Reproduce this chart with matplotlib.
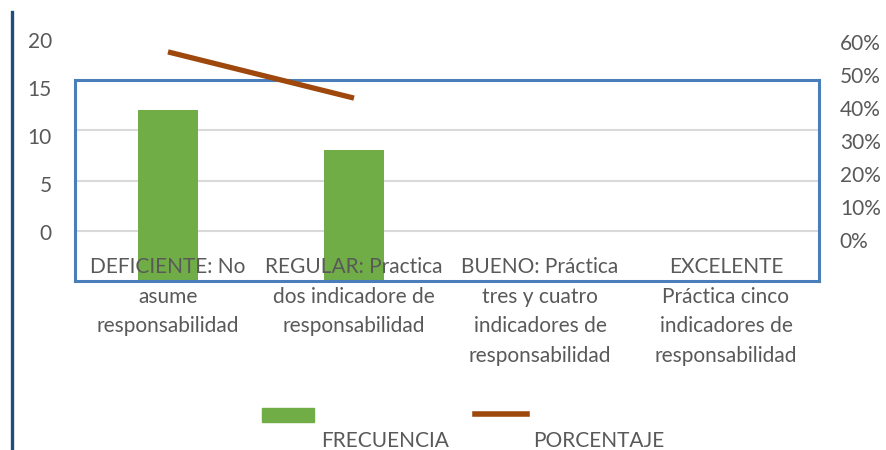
import matplotlib
matplotlib.use('Agg')
import matplotlib.pyplot as plt
from matplotlib.lines import Line2D
from matplotlib.patches import Rectangle

categorias = ['DEFICIENTE: No\nasume\nresponsabilidad',
              'REGULAR: Practica\ndos indicadore de\nresponsabilidad',
              'BUENO: Práctica\ntres y cuatro\nindicadores de\nresponsabilidad',
              'EXCELENTE\nPráctica cinco\nindicadores de\nresponsabilidad']
frecuencia = [12, 8, None, None]
porcentaje = [0.57, 0.43]
ticks_izq = [0, 5, 10, 15, 20]
ticks_der = [0, 0.1, 0.2, 0.3, 0.4, 0.5, 0.6]

W, H = 886, 450
GRIS = '#595959'
plt.rcParams['font.family'] = ['Lato', 'DejaVu Sans']
FS = 15


def caja(x0, y0, x1, y1):
    # pixel box (top-left origin) -> figure fraction
    return [x0 / W, 1 - y1 / H, (x1 - x0) / W, (y1 - y0) / H]


fig = plt.figure(figsize=(W / 100, H / 100), dpi=100)

# main plot area with the blue frame
ax = fig.add_axes(caja(75, 80, 819, 281))
ymin = -5
x = list(range(len(categorias)))
vals = [v for v in frecuencia if v is not None]
ax.bar(x[:len(vals)], [v - ymin for v in vals], bottom=ymin, width=0.32,
       color='#70AD47', zorder=2)
ax.set_xlim(-0.5, 3.5)
ax.set_ylim(ymin, 15)
ax.set_yticks([0, 5, 10])
ax.yaxis.grid(True, color='#D9D9D9', linewidth=1.5, zorder=0)
ax.tick_params(axis='y', length=0, labelleft=False)
ax.set_xticks([])
for xi, lab in zip(x, categorias):
    ax.annotate(lab, (xi, 0), xycoords=('data', 'axes fraction'),
                xytext=(0, 24), textcoords='offset pixels',
                ha='center', va='top', multialignment='center',
                color=GRIS, fontsize=FS, linespacing=1.6, zorder=5,
                annotation_clip=False)
for s in ax.spines.values():
    s.set_color('#4A7EBB')
    s.set_linewidth(2.2)
    s.set_zorder(4)
ax.set_facecolor('none')

# left value labels (offset from grid, as in the original)
axl = fig.add_axes(caja(52, 40, 819, 232))
axl.set_ylim(0, 20)
axl.set_yticks(ticks_izq)
axl.set_yticklabels([str(t) for t in ticks_izq], color=GRIS, fontsize=FS)
axl.tick_params(axis='y', length=0, pad=0)
axl.set_xticks([])
for s in axl.spines.values():
    s.set_visible(False)
axl.patch.set_visible(False)

# percentage axis and line
axr = fig.add_axes(caja(75, 42, 819, 240))
axr.set_xlim(-0.5, 3.5)
axr.set_ylim(0, 0.6)
axr.plot(x[:len(porcentaje)], porcentaje, color='#9E480E', linewidth=3.8,
         solid_capstyle='butt')
axr.yaxis.tick_right()
axr.set_yticks(ticks_der)
axr.set_yticklabels([f'{int(round(t * 100))}%' for t in ticks_der],
                    color=GRIS, fontsize=FS, ha='left')
axr.tick_params(axis='y', length=0, pad=15)
axr.set_xticks([])
for s in axr.spines.values():
    s.set_visible(False)
axr.patch.set_visible(False)

# legend drawn by hand (handles above, text below)
fig.add_artist(Rectangle((262 / W, 1 - 422 / H), 52 / W, 14 / H,
                         transform=fig.transFigure, color='#70AD47'))
fig.add_artist(Line2D([475 / W, 527 / W], [1 - 414 / H] * 2,
                      transform=fig.transFigure, color='#9E480E', linewidth=4))
fig.text(321 / W, 1 - 447 / H, 'FRECUENCIA', color=GRIS, fontsize=FS,
         va='baseline', ha='left')
fig.text(533 / W, 1 - 447 / H, 'PORCENTAJE', color=GRIS, fontsize=FS,
         va='baseline', ha='left')

# dark vertical rule at the left edge
fig.add_artist(Line2D([11.5 / W] * 2, [0, 1 - 12 / H], transform=fig.transFigure,
                      color='#1F4E79', linewidth=2.4))

fig.savefig('out.png', dpi=100)
